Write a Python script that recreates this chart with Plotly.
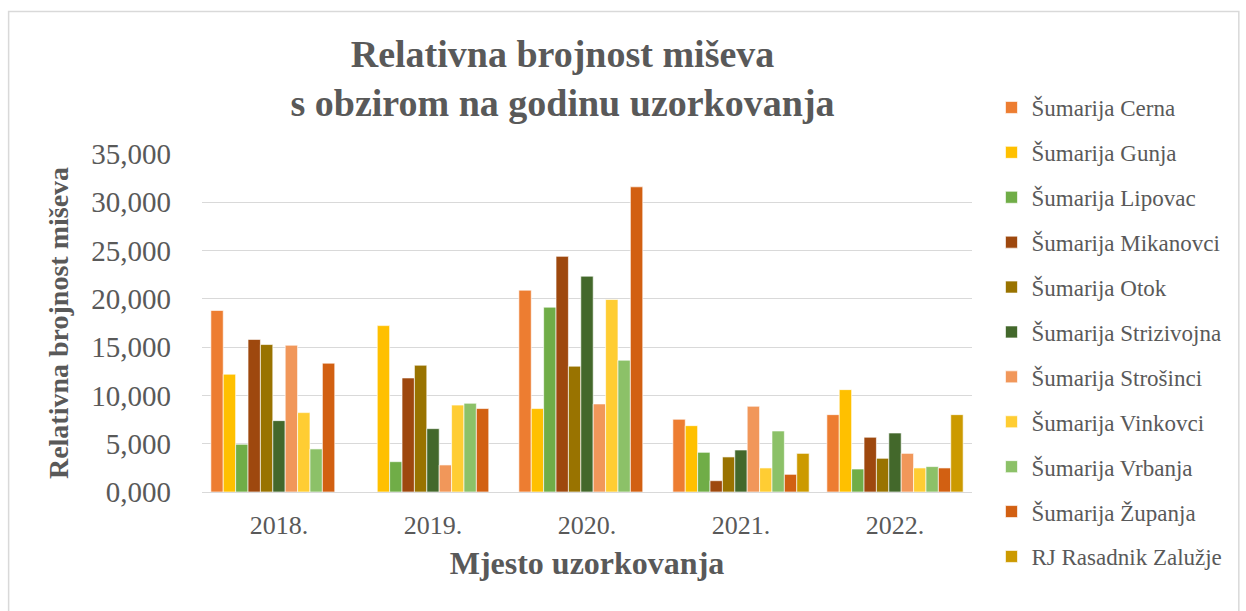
import plotly.graph_objects as go

years = ["2018.", "2019.", "2020.", "2021.", "2022."]

cerna = [18.8, None, 20.9, 7.53, 8.01]
gunja = [12.2, 17.23, 8.64, 6.87, 10.6]
lipovac = [4.94, 3.14, 19.14, 4.11, 2.38]
mikanovci = [15.8, 11.81, 24.4, 1.17, 5.67]
otok = [15.27, 13.13, 13.03, 3.63, 3.49]
strizivojna = [7.39, 6.56, 22.35, 4.35, 6.11]
strosinci = [15.2, 2.8, 9.12, 8.88, 4.0]
vinkovci = [8.22, 9.0, 19.93, 2.49, 2.49]
vrbanja = [4.46, 9.19, 13.65, 6.32, 2.63]
zupanja = [13.34, 8.64, 31.6, 1.83, 2.49]
zaluzje = [None, None, None, 4.0, 8.01]

series_names = [
    "Šumarija Cerna", "Šumarija Gunja", "Šumarija Lipovac", "Šumarija Mikanovci",
    "Šumarija Otok", "Šumarija Strizivojna", "Šumarija Strošinci", "Šumarija Vinkovci",
    "Šumarija Vrbanja", "Šumarija Županja", "RJ Rasadnik Zalužje",
]
series_values = [cerna, gunja, lipovac, mikanovci, otok, strizivojna, strosinci,
                 vinkovci, vrbanja, zupanja, zaluzje]
colors = ["#ED7D31", "#FFC000", "#70AD47", "#9E480E", "#997300", "#43682B",
          "#F1975A", "#FFCD33", "#8CC168", "#D26012", "#CC9A00"]

W, H = 1246, 611
L, R, T, B = 202, 273.5, 154, 119
pw, ph = W - L - R, H - T - B

FONT = "Liberation Serif, Times New Roman, serif"
GRAY = "#595959"

fig = go.Figure()
for i, (name, vals, col) in enumerate(zip(series_names, series_values, colors)):
    fig.add_trace(go.Bar(
        x=years, y=vals, name=name, legendgroup=f"g{i}",
        marker=dict(color=col, line=dict(color="rgba(255,255,255,0.8)", width=0.8)),
    ))

def px_x(p):
    return (p - L) / pw

def px_y(p):
    return (H - B - p) / ph

fig.update_layout(
    width=W, height=H,
    margin=dict(l=L, r=R, t=T, b=B, pad=0),
    paper_bgcolor="white", plot_bgcolor="white",
    barmode="group", bargap=0.115, bargroupgap=0,
    separators=",.",
    font=dict(family=FONT, color=GRAY),
    title=dict(
        text="Relativna brojnost miševa<br>s obzirom na godinu uzorkovanja",
        x=562.5 / W, xanchor="center", xref="container",
        y=1 - 67 / H, yanchor="middle", yref="container",
        font=dict(family=FONT, size=38, color=GRAY, weight="bold"),
    ),
    xaxis=dict(
        showgrid=False, showline=True, linecolor="#D9D9D9", linewidth=1,
        ticks="", tickfont=dict(size=26, color=GRAY, family=FONT),
        ticklabelstandoff=10,
        title=dict(text="<b>Mjesto uzorkovanja</b>", font=dict(size=32, color=GRAY, family=FONT), standoff=12),
    ),
    yaxis=dict(
        range=[0, 35], dtick=5, tick0=0, tickformat=".3f",
        showgrid=True, gridcolor="#D9D9D9", gridwidth=1,
        zeroline=True, zerolinecolor="#D9D9D9", zerolinewidth=1,
        ticks="", tickfont=dict(size=29, color=GRAY, family=FONT),
        ticklabelstandoff=30,
        title=dict(text="<b>Relativna brojnost miševa</b>", font=dict(size=28, color=GRAY, family=FONT), standoff=14),
    ),
    legend=dict(
        x=px_x(992), xanchor="left", y=px_y(86), yanchor="top",
        font=dict(size=23, color=GRAY, family=FONT),
        tracegroupgap=12, itemwidth=30, maxheight=560,
        bgcolor="rgba(0,0,0,0)",
    ),
    shapes=[dict(
        type="rect", xref="paper", yref="paper",
        x0=px_x(8.5), x1=px_x(1239.5), y0=px_y(625), y1=px_y(11.5),
        line=dict(color="#D9D9D9", width=1.5), fillcolor="rgba(0,0,0,0)", layer="below",
    )],
)

fig.write_html(
    "out.html",
    config={"displayModeBar": False},
    post_script="document.body.style.margin='0';document.body.style.overflow='hidden';",
)
